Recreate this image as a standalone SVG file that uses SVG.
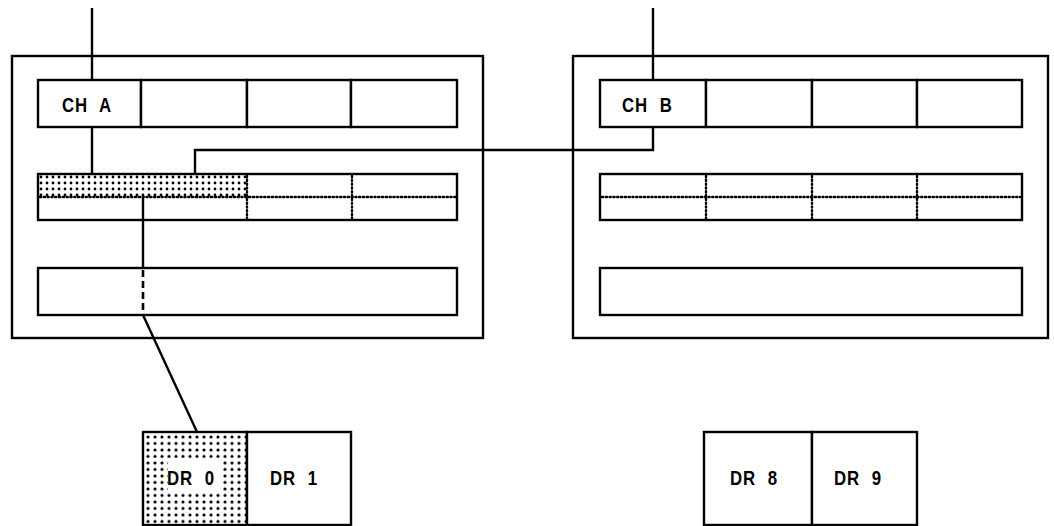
<svg xmlns="http://www.w3.org/2000/svg" width="1054" height="526" viewBox="0 0 1054 526">
<defs>
<pattern id="stip" x="145" y="434" width="7" height="6.5" patternUnits="userSpaceOnUse">
<circle cx="3" cy="3" r="1.5" fill="#000"/>
</pattern>
<pattern id="stip2" x="38" y="174" width="6" height="6" patternUnits="userSpaceOnUse">
<circle cx="3" cy="3" r="1.4" fill="#000"/>
</pattern>
</defs>
<style>
.box{fill:#fff;stroke:#000;stroke-width:2.4}
.dot{fill:none;stroke:#000;stroke-width:2.4;stroke-dasharray:1.2 2.6;stroke-linecap:round}
.ln{fill:none;stroke:#000;stroke-width:2.4}
.dash{fill:none;stroke:#000;stroke-width:2.6;stroke-dasharray:7 4}
.lbl{font-family:"Liberation Sans",Arial,sans-serif;font-weight:bold;font-size:21px;letter-spacing:1px;word-spacing:8px;fill:#000}
</style>
<rect width="1054" height="526" fill="#fff"/>

<g id="unit-left">
<rect class="box" x="12" y="56" width="471" height="282"/>
<g id="chA"><rect class="box" x="38" y="80" width="103" height="47"/><text class="lbl" transform="translate(62,112) scale(0.8,1)">CH A</text></g>
<g id="chA2"><rect class="box" x="141" y="80" width="106" height="47"/></g>
<g id="chA3"><rect class="box" x="247" y="80" width="104" height="47"/></g>
<g id="chA4"><rect class="box" x="351" y="80" width="106" height="47"/></g>
<g id="bufA">
<rect class="box" x="38" y="174" width="419" height="46"/>
<rect x="39" y="175" width="208" height="22" fill="url(#stip2)"/>
<line class="dot" x1="247" y1="176" x2="247" y2="219"/>
<line class="dot" x1="352" y1="176" x2="352" y2="219"/>
<line class="dot" x1="40" y1="197" x2="456" y2="197"/>
</g>
<g id="barA"><rect class="box" x="38" y="268" width="419" height="47"/></g>
</g>

<g id="unit-right">
<rect class="box" x="573" y="56" width="475" height="282"/>
<g id="chB"><rect class="box" x="600" y="80" width="106" height="47"/><text class="lbl" transform="translate(622,112) scale(0.8,1)">CH B</text></g>
<g id="chB2"><rect class="box" x="706" y="80" width="106" height="47"/></g>
<g id="chB3"><rect class="box" x="812" y="80" width="105" height="47"/></g>
<g id="chB4"><rect class="box" x="917" y="80" width="105" height="47"/></g>
<g id="bufB">
<rect class="box" x="600" y="174" width="422" height="46"/>
<line class="dot" x1="706" y1="176" x2="706" y2="219"/>
<line class="dot" x1="812" y1="176" x2="812" y2="219"/>
<line class="dot" x1="917" y1="176" x2="917" y2="219"/>
<line class="dot" x1="602" y1="197" x2="1020" y2="197"/>
</g>
<g id="barB"><rect class="box" x="600" y="268" width="422" height="47"/></g>
</g>

<g id="connectors">
<line class="ln" x1="92" y1="8" x2="92" y2="80"/>
<line class="ln" x1="92" y1="127" x2="92" y2="174"/>
<line class="ln" x1="653" y1="8" x2="653" y2="80"/>
<polyline class="ln" points="653,127 653,150 195,150 195,174"/>
<line class="ln" x1="143" y1="198" x2="143" y2="268"/>
<line class="dash" x1="143" y1="270" x2="143" y2="315"/>
<line class="ln" x1="143" y1="315" x2="197" y2="432"/>
</g>

<g id="dr0">
<rect class="box" x="143" y="432" width="104" height="93"/>
<rect x="144" y="433" width="102" height="91" fill="url(#stip)"/>
<rect x="168" y="458" width="55" height="35" fill="#fff"/>
<text class="lbl" transform="translate(167,485) scale(0.8,1)">DR 0</text>
</g>
<g id="dr1">
<rect class="box" x="247" y="432" width="104" height="93"/>
<text class="lbl" transform="translate(270,485) scale(0.8,1)">DR 1</text>
</g>
<g id="dr8">
<rect class="box" x="704" y="432" width="108" height="93"/>
<text class="lbl" transform="translate(730,485) scale(0.8,1)">DR 8</text>
</g>
<g id="dr9">
<rect class="box" x="812" y="432" width="105" height="93"/>
<text class="lbl" transform="translate(834,485) scale(0.8,1)">DR 9</text>
</g>
</svg>
